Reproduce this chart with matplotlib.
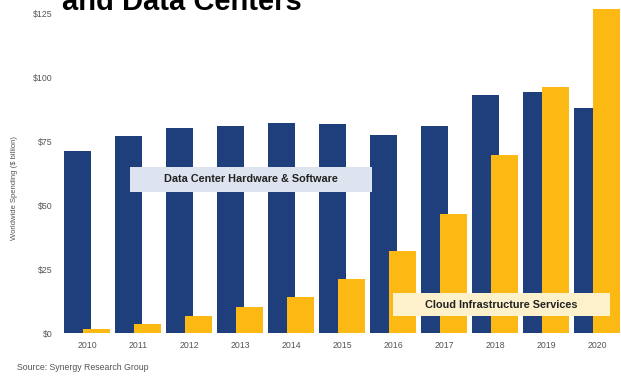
import matplotlib.pyplot as plt
from matplotlib.patches import Rectangle
import numpy as np

plt.rcParams['font.family'] = ['Liberation Sans', 'DejaVu Sans']

years = ['2010', '2011', '2012', '2013', '2014', '2015',
         '2016', '2017', '2018', '2019', '2020']
# worldwide spending, $ billion
dc_hw_sw = [71, 77, 80, 81, 82, 81.5, 77.5, 81, 93, 94, 88]
cloud_infra = [1.5, 3.5, 6.5, 10, 14, 21, 32, 46.5, 69.5, 96, 128]
yticks = [0, 25, 50, 75, 100, 125]
ytick_labels = ['$0', '$25', '$50', '$75', '$100', '$125']

navy = '#1f3f7c'
gold = '#fcb813'
grey = '#555555'

W, H = 621, 377
fig = plt.figure(figsize=(W / 100, H / 100), dpi=100)
ax = fig.add_axes([58 / W, 1 - 333 / H, 563 / W, 324 / H])

x = np.arange(len(years))
bw = 0.53
ax.bar(x - 0.186, dc_hw_sw, width=bw, color=navy, zorder=1)
ax.bar(x + 0.186, cloud_infra, width=bw, color=gold, zorder=2)

ax.set_xlim(-0.57, 10.47)
ax.set_ylim(0, 126.6)
ax.set_xticks(x)
ax.set_xticklabels(years)
ax.set_yticks(yticks)
ax.set_yticklabels(ytick_labels)
ax.tick_params(length=0, labelsize=6.3, labelcolor=grey)
ax.tick_params(axis='x', pad=6)
ax.tick_params(axis='y', pad=4)
for s in ax.spines.values():
    s.set_visible(False)

ax.set_ylabel('Worldwide Spending ($ billion)', fontsize=5.5, color=grey)
ax.yaxis.set_label_coords(-0.071, 0.447)


def label_box(x0, y0, x1, y1, text, face):
    # box given in pixel coords from the top-left corner
    r = Rectangle((x0 / W, 1 - y1 / H), (x1 - x0) / W, (y1 - y0) / H,
                  transform=fig.transFigure, facecolor=face, edgecolor='none',
                  zorder=3, clip_on=False)
    ax.add_patch(r)
    ax.text((x0 + x1) / 2 / W, 1 - (y0 + y1) / 2 / H, text,
            transform=fig.transFigure, ha='center', va='center',
            fontsize=7.8, fontweight='bold', color='#222222', zorder=4)


label_box(130, 167, 372, 192, 'Data Center Hardware & Software', '#dde4ef')
label_box(393, 293, 610, 316, 'Cloud Infrastructure Services', '#fdf1cc')

# title line sits mostly above the top edge
fig.text(62 / W, 1 - 10.5 / H, 'and Data Centers', fontsize=21,
         fontweight='bold', color='black', va='baseline', ha='left')
fig.text(17 / W, 1 - 367 / H, 'Source: Synergy Research Group', fontsize=6.3,
         color=grey, va='center', ha='left')

fig.savefig('out.png', dpi=100)
